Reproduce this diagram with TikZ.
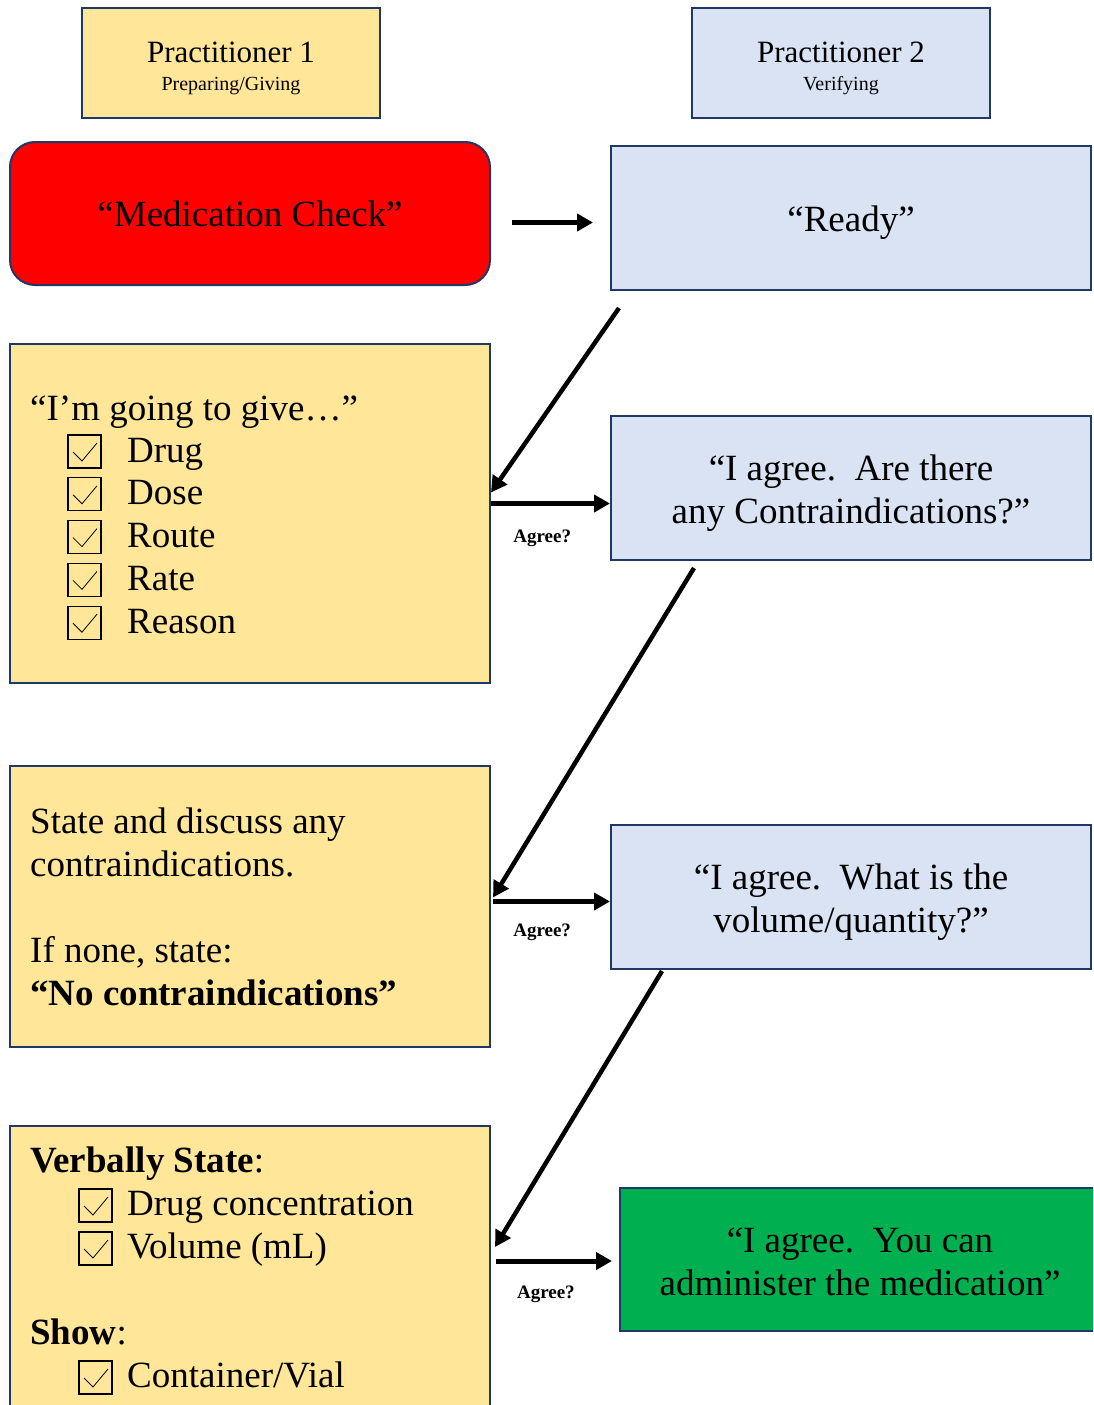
\documentclass[tikz,border=0pt]{standalone}
\usepackage{fontspec}
\setmainfont{Liberation Serif}
\usetikzlibrary{arrows.meta,positioning}
\definecolor{giveyellow}{HTML}{FFE699}
\definecolor{checkblue}{HTML}{DAE3F3}
\definecolor{edgenavy}{HTML}{1F3864}
\definecolor{alarmred}{HTML}{FF0000}
\definecolor{okgreen}{HTML}{00B050}
\tikzset{
  box/.style={draw=edgenavy, line width=2pt, minimum width=480pt, inner sep=0pt},
  pone/.style={box, fill=giveyellow},
  ptwo/.style={box, fill=checkblue},
  say/.style={font=\fontsize{37}{43}\selectfont},
  txt/.style={say, anchor=base west, inner sep=0pt},
  reply/.style={say, align=center, inner sep=0pt},
  flow/.style={-{Triangle[length=16pt,width=17pt]}, line width=4.5pt},
  agree/.style={font=\fontsize{19}{21}\selectfont\bfseries, inner sep=0pt},
  chkbox/.pic={
    \draw[line width=1.3pt] (0,0) rectangle (33,33);
    \draw[line width=0.8pt] (5,17) -- (14,26) -- (29,8);
  }
}
\begin{document}
\begin{tikzpicture}[x=1pt,y=-1pt]
  \useasboundingbox (0,0) rectangle (1093,1405);
  \clip (0,0) rectangle (1093,1405);
  % headers
  \node[pone, minimum width=298pt, minimum height=110pt] (hdone) at (231,63) {};
  \node[font=\fontsize{31}{36}\selectfont, anchor=base, inner sep=0pt] (hdonename) at (231,63) {Practitioner 1};
  \node[font=\fontsize{20}{24}\selectfont, anchor=base, inner sep=0pt] (hdonerole) at (231,90) {Preparing/Giving};
  \node[ptwo, minimum width=298pt, minimum height=110pt] (hdtwo) at (841,63) {};
  \node[font=\fontsize{31}{36}\selectfont, anchor=base, inner sep=0pt] (hdtwoname) at (841,63) {Practitioner 2};
  \node[font=\fontsize{20}{24}\selectfont, anchor=base, inner sep=0pt] (hdtworole) at (841,90) {Verifying};
  % practitioner 1 column
  \node[box, fill=alarmred, rounded corners=25pt, minimum height=143pt, say] (medchk) at (250,213.5) {“Medication Check”};
  \node[pone, minimum height=339pt] (give) at (250,513.5) {};
  \node[txt] (givehead) at (30,420) {“I’m going to give…”};
  \foreach \what [count=\row from 0] in {Drug,Dose,Route,Rate,Reason} {
    \pic at (68,{435+42.8*\row}) {chkbox};
    \node[txt] (give\row) at (127,{462+42.8*\row}) {\what};
  }
  \node[pone, minimum height=281pt] (state) at (250,906.5) {};
  \node[txt] (stateone) at (30,833) {State and discuss any};
  \node[txt] (statetwo) at (30,876) {contraindications.};
  \node[txt] (statethree) at (30,962) {If none, state:};
  \node[txt] (statefour) at (30,1005) {\textbf{“No contraindications”}};
  \node[pone, minimum height=300pt] (show) at (250,1276) {};
  \node[txt] (showhead) at (30,1172) {\textbf{Verbally State}:};
  \pic at (79,1189) {chkbox};
  \node[txt] (showconc) at (127,1215) {Drug concentration};
  \pic at (79,1232) {chkbox};
  \node[txt] (showvol) at (127,1258) {Volume (mL)};
  \node[txt] (showtitle) at (30,1344) {\textbf{Show}:};
  \pic at (79,1361) {chkbox};
  \node[txt] (showvial) at (127,1387) {Container/Vial};
  % practitioner 2 column
  \node[ptwo, minimum height=144pt] (ready) at (851,218) {};
  \node[reply] (readytxt) at ([yshift=-5pt]ready.center) {“Ready”};
  \node[ptwo, minimum height=144pt] (ctr) at (851,488) {};
  \node[reply] (ctrtxt) at ([yshift=-5pt]ctr.center) {“I agree.\ \ Are there\\any Contraindications?”};
  \node[ptwo, minimum height=144pt] (vol) at (851,897) {};
  \node[reply] (voltxt) at ([yshift=-5pt]vol.center) {“I agree.\ \ What is the\\volume/quantity?”};
  \node[box, fill=okgreen, minimum height=143pt] (admin) at (860,1259.5) {};
  \node[reply] (admintxt) at ([yshift=-2pt]admin.center) {“I agree.\ \ You can\\administer the medication”};
  % arrows
  \draw[flow, line width=5.5pt] ([xshift=21pt,yshift=-9pt]medchk.east) -- ([xshift=-17pt,yshift=-9pt]medchk.east -| ready.west);
  \draw[flow] ([xshift=9pt,yshift=-17pt]ready.south west) -- ([yshift=21pt]give.east);
  \draw[flow, line width=5pt] ([yshift=10pt]give.east) -- ([yshift=10pt]give.east -| ctr.west)
    node[agree, pos=0.43, below=24pt] (agreeone) {Agree?};
  \draw[flow] ([xshift=84pt,yshift=-7pt]ctr.south west) -- ([xshift=2pt,yshift=9pt]state.east);
  \draw[flow, line width=5pt] ([xshift=2pt,yshift=5pt]state.east) -- ([yshift=5pt]state.east -| vol.west)
    node[agree, pos=0.42, below=20pt] (agreetwo) {Agree?};
  \draw[flow] ([xshift=52pt,yshift=-1pt]vol.south west) -- ([xshift=4pt,yshift=29pt]show.east);
  \draw[flow, line width=5pt] ([xshift=5pt,yshift=15pt]show.east) -- ([xshift=-7pt,yshift=15pt]show.east -| admin.west)
    node[agree, pos=0.43, below=22pt] (agreethree) {Agree?};
\end{tikzpicture}
\end{document}
